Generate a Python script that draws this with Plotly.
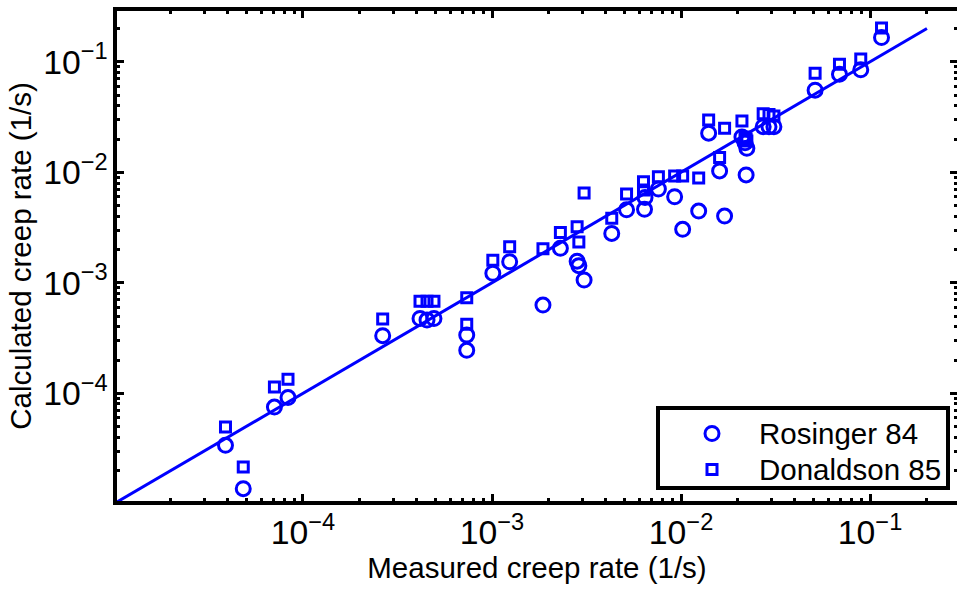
import plotly.graph_objects as go

# Rosinger 84 (circles)
ros_x = [3.89e-5, 4.83e-5, 7.06e-5, 8.33e-5, 2.64e-4, 4.16e-4, 4.53e-4, 4.93e-4,
         7.35e-4, 7.35e-4, 1.01e-3, 1.24e-3, 1.86e-3, 2.30e-3, 2.82e-3, 2.88e-3,
         3.07e-3, 4.30e-3, 5.15e-3, 6.45e-3, 6.41e-3, 7.59e-3, 9.25e-3, 1.02e-2,
         1.24e-2, 1.40e-2, 1.60e-2, 1.70e-2, 2.10e-2, 2.18e-2, 2.23e-2, 2.21e-2,
         2.72e-2, 2.92e-2, 3.10e-2, 5.12e-2, 6.89e-2, 8.93e-2, 0.115]
ros_y = [3.38e-5, 1.37e-5, 7.51e-5, 9.14e-5, 3.32e-4, 4.75e-4, 4.60e-4, 4.75e-4,
         3.36e-4, 2.45e-4, 1.22e-3, 1.55e-3, 6.28e-4, 2.05e-3, 1.57e-3, 1.43e-3,
         1.06e-3, 2.80e-3, 4.58e-3, 5.92e-3, 4.62e-3, 7.06e-3, 6.01e-3, 3.05e-3,
         4.46e-3, 2.26e-2, 1.03e-2, 4.02e-3, 2.09e-2, 1.85e-2, 1.65e-2, 9.46e-3,
         2.59e-2, 2.58e-2, 2.59e-2, 5.54e-2, 7.70e-2, 8.46e-2, 0.166]

# Donaldson 85 (squares)
don_x = [3.89e-5, 4.83e-5, 7.06e-5, 8.33e-5, 2.64e-4, 4.16e-4, 4.53e-4, 4.93e-4,
         7.35e-4, 7.35e-4, 1.01e-3, 1.24e-3, 1.86e-3, 2.30e-3, 2.82e-3, 2.88e-3,
         3.07e-3, 4.30e-3, 5.15e-3, 6.33e-3, 6.33e-3, 7.59e-3, 9.25e-3, 1.02e-2,
         1.24e-2, 1.40e-2, 1.60e-2, 1.70e-2, 2.10e-2, 2.18e-2, 2.23e-2, 2.21e-2,
         2.72e-2, 2.92e-2, 3.10e-2, 5.12e-2, 6.89e-2, 8.93e-2, 0.115]
don_y = [4.94e-5, 2.15e-5, 1.14e-4, 1.34e-4, 4.69e-4, 6.82e-4, 6.82e-4, 6.82e-4,
         7.34e-4, 4.22e-4, 1.60e-3, 2.12e-3, 2.03e-3, 2.85e-3, 3.21e-3, 2.34e-3,
         6.50e-3, 3.83e-3, 6.37e-3, 8.22e-3, 6.92e-3, 9.13e-3, 9.27e-3, 9.27e-3,
         8.89e-3, 2.98e-2, 1.36e-2, 2.51e-2, 2.92e-2, 2.09e-2, 1.92e-2, 2.00e-2,
         3.38e-2, 3.34e-2, 3.24e-2, 7.90e-2, 9.49e-2, 0.106, 0.202]

# 1:1 line
line_x = [1e-5, 0.2]
line_y = [1e-5, 0.2]

# legend entries
legend_names = ["Rosinger 84", "Donaldson 85"]
legend_symbols = ["circle-open", "square-open"]
legend_sizes = [14, 10]

BLUE = "#0000ff"
FONT = "Liberation Sans, Arial, sans-serif"

fig = go.Figure()
fig.add_trace(go.Scatter(x=line_x, y=line_y, mode="lines",
                         line=dict(color=BLUE, width=3), showlegend=False))
fig.add_trace(go.Scatter(x=ros_x, y=ros_y, mode="markers", name=legend_names[0],
                         marker=dict(symbol=legend_symbols[0], size=legend_sizes[0],
                                     color=BLUE, line=dict(width=3, color=BLUE)),
                         showlegend=False))
fig.add_trace(go.Scatter(x=don_x, y=don_y, mode="markers", name=legend_names[1],
                         marker=dict(symbol=legend_symbols[1], size=legend_sizes[1],
                                     color=BLUE, line=dict(width=3, color=BLUE)),
                         showlegend=False))

# manual legend (box, markers on an overlay axis, text annotations)
L, R, T, B = 117, 957, 11, 501
W, H = R - L, B - T
def px(x):
    return (x - L) / W
def py(y):
    return (B - y) / H

box = dict(x0=px(658), x1=px(948), y0=py(488), y1=py(408))
row_y = [433.5, 469.5]
fig.add_shape(type="rect", xref="paper", yref="paper", layer="below",
              line=dict(color="black", width=4), fillcolor="white", **box)
for name, sym, size, ry in zip(legend_names, legend_symbols, legend_sizes, row_y):
    fig.add_trace(go.Scatter(x=[px(712)], y=[py(ry)], xaxis="x2", yaxis="y2",
                             mode="markers", showlegend=False, hoverinfo="skip",
                             marker=dict(symbol=sym, size=size, color=BLUE,
                                         line=dict(width=3, color=BLUE))))
    fig.add_annotation(x=px(757), y=py(ry), xref="paper", yref="paper",
                       text=name, showarrow=False, xanchor="left", yanchor="middle",
                       font=dict(family=FONT, size=29.5, color="black"))

axis_common = dict(
    type="log", dtick=1, exponentformat="power", showexponent="all",
    showgrid=False, zeroline=False, automargin=False,
    showline=True, linecolor="black", linewidth=4, mirror="ticks",
    ticks="inside", ticklen=7, tickwidth=3, tickcolor="black",
    minor=dict(ticks="inside", ticklen=3, tickwidth=2.5, tickcolor="black",
               dtick="D1", showgrid=False),
    tickfont=dict(family=FONT, size=27, color="black"),
)

fig.update_xaxes(range=[-4.984, -0.540],
                 title=dict(text="Measured creep rate (1/s)",
                            font=dict(family=FONT, size=29.5, color="black"),
                            standoff=4),
                 **axis_common)
fig.update_yaxes(range=[-4.975, -0.540],
                 title=dict(text="Calculated creep rate (1/s)",
                            font=dict(family=FONT, size=29.5, color="black"),
                            standoff=4),
                 **axis_common)

fig.update_layout(
    width=957, height=591,
    margin=dict(l=L, r=957 - R, t=T, b=591 - B, autoexpand=False),
    paper_bgcolor="white", plot_bgcolor="white",
    font=dict(family=FONT, color="black"),
    showlegend=False,
    xaxis2=dict(overlaying="x", range=[0, 1], visible=False, fixedrange=True),
    yaxis2=dict(overlaying="y", range=[0, 1], visible=False, fixedrange=True),
)

fig.write_html("out.html")
